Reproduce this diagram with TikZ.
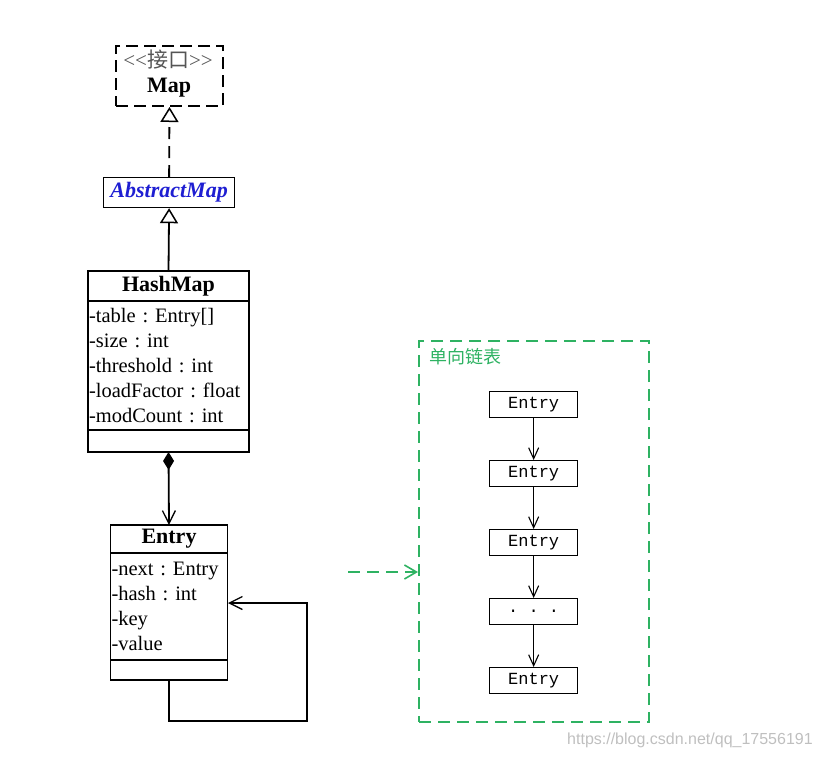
\documentclass[tikz,border=0pt]{standalone}
\usepackage{fontspec}
\setmainfont{Liberation Serif}
\newfontfamily\plainserif{Liberation Serif}[Ligatures=ResetAll]
\newfontfamily\cjk{Noto Sans CJK SC}
\newfontfamily\monof{Liberation Mono}
\newfontfamily\wmfont{Liberation Sans}
\usetikzlibrary{arrows.meta}
\definecolor{grn}{RGB}{46,178,98}
\definecolor{blu}{RGB}{30,30,210}
\frenchspacing
\begin{document}
\begin{tikzpicture}[x=1pt,y=-1pt,
  umlbox/.style={draw,line width=1.8pt,rectangle,inner sep=0pt,outer sep=0pt,anchor=north west,fill=white},
  titlefont/.style={font=\fontsize{22}{24}\selectfont\bfseries},
  attrbox/.style={umlbox,align=left,text width=#1,font=\fontsize{20.5}{25}\selectfont,inner xsep=1pt},
  chainbox/.style={draw,line width=1.3pt,minimum width=88pt,minimum height=26pt,inner sep=0pt,anchor=north west,font=\fontsize{17}{18}\monof},
  chainarrow/.style={line width=1.1pt,-{Straight Barb[length=11pt,width=10pt,line width=1.1pt]}},
  umlline/.style={line width=1.8pt},
]
\useasboundingbox (0,0) rectangle (824,758);
% Map interface
\node[draw,dashed,dash pattern=on 12pt off 6pt,line width=2pt,anchor=north west,minimum width=107pt,minimum height=60pt,inner sep=0pt] (map) at (115,45) {};
\node[font=\fontsize{21}{22}\plainserif,text={rgb,255:red,85;green,85;blue,85},inner sep=0pt] (mapst) at (168,60) {<\kern0pt<{\cjk 接口}>\kern0pt>};
\node[font=\fontsize{22}{24}\selectfont\bfseries,inner sep=0pt] (mapname) at (169,88) {Map};
% AbstractMap
\node[draw,line width=1.2pt,anchor=north west,minimum width=131pt,minimum height=30pt,inner sep=0pt,font=\fontsize{22}{24}\selectfont\bfseries\itshape,text=blu] (am) at (103,177) {AbstractMap};
% HashMap
\node[umlbox,minimum width=161pt,minimum height=30pt,titlefont] (hm) at (88,271) {HashMap};
\node[attrbox=159pt,minimum height=129pt] (hmattr) at (hm.south west)
  {-table : Entry[]\\-size : int\\-threshold : int\\-loadFactor : float\\-modCount : int};
\node[umlbox,minimum width=161pt,minimum height=22pt] (hmops) at (hmattr.south west) {};
% Entry
\node[umlbox,minimum width=117pt,minimum height=28pt,titlefont] (et) at (110.5,525) {Entry};
\node[attrbox=115pt,minimum height=107pt] (etattr) at (et.south west)
  {-next : Entry\\-hash : int\\-key\\-value};
\node[umlbox,minimum width=117pt,minimum height=20pt] (etops) at (etattr.south west) {};
% connectors
\draw[umlline,dashed,dash pattern=on 12pt off 7pt,-{Triangle[open,length=15pt,width=18pt,line width=1.5pt]}] (am.north) -- (map.south);
\draw[umlline,-{Triangle[open,length=15pt,width=18pt,line width=1.5pt]}] (hm.north) -- (am.south);
\draw[umlline,{Diamond[length=18pt,width=11pt]}-{Straight Barb[length=13pt,width=13pt,line width=1.3pt]}] (hmops.south) -- (et.north);
\coordinate (l2) at (307,721);
\coordinate (l3) at (228,603);
\draw[umlline,-{Straight Barb[length=13pt,width=13pt,line width=1.3pt]}] (etops.south) |- (l2) |- (l3);
% linked list group
\node[draw=grn,dashed,dash pattern=on 12pt off 7pt,line width=2.2pt,anchor=north west,minimum width=230pt,minimum height=381pt,inner sep=0pt] (grp) at (418,340) {};
\node[anchor=west,text=grn,font=\fontsize{18}{20}\cjk,inner sep=0pt] (grplabel) at (429,357) {单向链表};
\coordinate (ga) at (348,572);
\draw[draw=grn,line width=2pt,dashed,dash pattern=on 12pt off 7pt,-{Straight Barb[length=12pt,width=14pt,line width=1.6pt]}] (ga) -- (grp.west |- ga);
\node[chainbox] (c1) at (489,391) {Entry};
\node[chainbox] (c2) at (489,460) {Entry};
\node[chainbox] (c3) at (489,529) {Entry};
\node[chainbox] (c4) at (489,598) {. . .};
\node[chainbox] (c5) at (489,667) {Entry};
\draw[chainarrow] (c1) -- (c2);
\draw[chainarrow] (c2) -- (c3);
\draw[chainarrow] (c3) -- (c4);
\draw[chainarrow] (c4) -- (c5);
% watermark
\node[anchor=west,text=black!25,font=\fontsize{16}{18}\wmfont,inner sep=0pt] (wm) at (567,740) {https://blog.csdn.net/qq\_17556191};
\end{tikzpicture}
\end{document}
